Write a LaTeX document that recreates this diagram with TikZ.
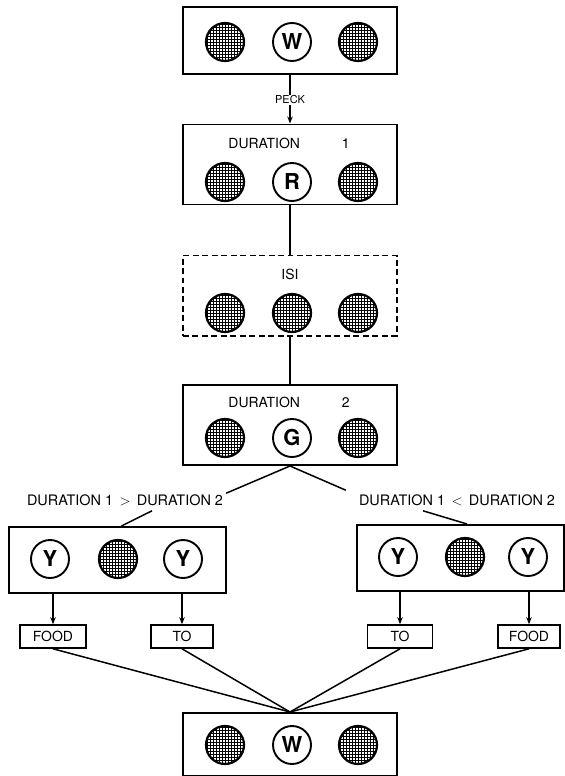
\documentclass[tikz,border=0pt]{standalone}
\usepackage{fontspec}
\setmainfont{TeX Gyre Heros}
\usetikzlibrary{calc,arrows.meta}
\begin{document}
\begin{tikzpicture}[x=1bp,y=-1bp,
  box/.style={draw, line width=2, minimum width=214bp, minimum height=80bp, inner sep=0},
  small/.style={draw, line width=1.6, minimum width=64bp, minimum height=23bp, inner sep=0, font=\fontsize{14}{14}\selectfont},
  hdot/.style={circle, draw, line width=2.2, minimum size=38bp, inner sep=0, fill=white,
    path picture={\foreach \k in {-7,...,7}{
      \draw[line width=1.6bp] ($(path picture bounding box.center)+(\k*3+0.5,-22)$) -- ++(0,44);
      \draw[line width=1.6bp] ($(path picture bounding box.center)+(-22,\k*3+0.5)$) -- ++(44,0);}}},
  lcirc/.style={circle, draw, line width=1.9, minimum size=38bp, inner sep=0, font=\fontsize{22}{22}\selectfont\bfseries},
  txt/.style={inner sep=0, font=\fontsize{14}{14}\selectfont},
  conn/.style={line width=1.5},
  arr/.style={-{Stealth[length=7pt,width=5.5pt]}}]
\useasboundingbox (0,0) rectangle (565,776);
\fill[white] (0,0) rectangle (565,776);
% boxes
\node[box, minimum height=67bp] (top) at (290,40.5) {};
\node[box] (d1) at (290,164.5) {};
\node[box, dash pattern=on 6pt off 3.5pt] (isi) at (290,295.5) {};
\node[box] (d2) at (290,425) {};
\node[box, minimum width=217bp, minimum height=66bp] (yb1) at (117.5,560) {};
\node[box, minimum width=207bp, minimum height=66bp] (yb2) at (460,558) {};
\node[box, minimum height=63bp] (bot) at (290,744.5) {};
% top
\node[hdot] (t1) at (225,42) {};
\node[lcirc] (t2) at (292,42) {W};
\node[hdot] (t3) at (358,42) {};
\node[inner sep=1, font=\fontsize{11}{11}\selectfont] (peck) at (290,100) {PECK};
% duration 1
\node[txt] (d1t) at (289,143) {DURATION\hspace{42pt}1};
\node[hdot] (d1a) at (225,182) {};
\node[lcirc] (d1b) at (292,182) {R};
\node[hdot] (d1c) at (358,182) {};
% isi
\node[txt] (isit) at (290,274) {ISI};
\node[hdot] (ia) at (225,313) {};
\node[hdot] (ib) at (292,313) {};
\node[hdot] (ic) at (358,313) {};
% duration 2
\node[txt] (d2t) at (289,402) {DURATION\hspace{42pt}2};
\node[hdot] (d2a) at (225,438) {};
\node[lcirc] (d2b) at (292,438) {G};
\node[hdot] (d2c) at (358,438) {};
% labels
\node[txt, font=\fontsize{14.5}{14.5}\selectfont] (lab1) at (125,500) {DURATION 1 \,$>$\, DURATION 2};
\node[txt, font=\fontsize{14.5}{14.5}\selectfont] (lab2) at (457,500) {DURATION 1 \,$<$\, DURATION 2};
% Y boxes
\node[lcirc] (ya1) at (50,559) {Y};
\node[hdot] (ya2) at (118,559) {};
\node[lcirc] (ya3) at (183,559) {Y};
\node[lcirc] (yb1c) at (398,557) {Y};
\node[hdot] (yb2c) at (465,557) {};
\node[lcirc] (yb3c) at (528,557) {Y};
% food / to
\node[small, minimum width=66bp] (food1) at (53,636.5) {FOOD};
\node[small, minimum width=62bp] (to1) at (182,636.5) {TO};
\node[small, minimum width=65bp] (to2) at (400,636.5) {TO};
\node[small, minimum width=62bp] (food2) at (529,636.5) {FOOD};
% bottom
\node[hdot] (ba) at (225,745) {};
\node[lcirc] (bb) at (292,745) {W};
\node[hdot] (bc) at (358,745) {};
% connectors
\coordinate (l1a) at ($(lab1.north east)+(3,-1)$);
\coordinate (l1b) at ($(lab1.south)+(27,5)$);
\coordinate (l2a) at ($(lab2.north west)+(-13,-4)$);
\coordinate (l2b) at ($(lab2.south)+(-34,5)$);
\draw[conn] (top.south) -- (peck.north);
\draw[conn,arr] (peck.south) -- (d1.north);
\draw[conn] (d1.south) -- (isi.north);
\draw[conn] (isi.south) -- (d2.north);
\draw[conn] (d2.south) -- (l1a);
\draw[conn] (l1b) -- ($(yb1.north)+(4,0)$);
\draw[conn] (d2.south) -- (l2a);
\draw[conn] (l2b) -- ($(yb2.north)+(7,0)$);
\draw[conn,arr] (food1.north |- yb1.south) -- (food1.north);
\draw[conn,arr] (to1.north |- yb1.south) -- (to1.north);
\draw[conn,arr] (to2.north |- yb2.south) -- (to2.north);
\draw[conn,arr] (food2.north |- yb2.south) -- (food2.north);
\draw[conn] (food1.south) -- (bot.north);
\draw[conn] (to1.south) -- (bot.north);
\draw[conn] (to2.south) -- (bot.north);
\draw[conn] (food2.south) -- (bot.north);
\end{tikzpicture}
\end{document}
